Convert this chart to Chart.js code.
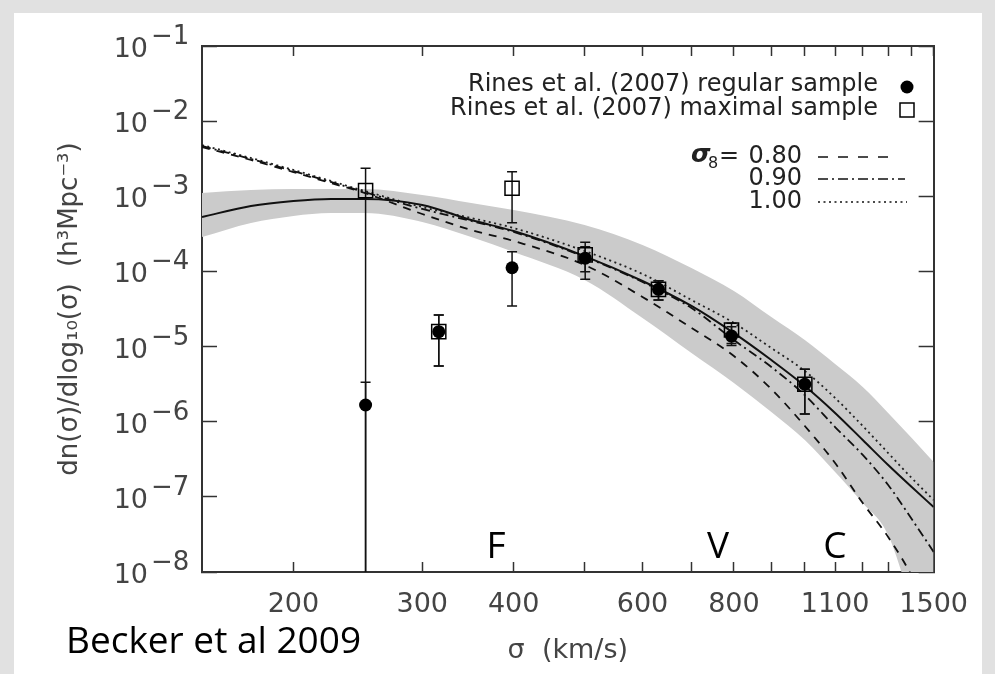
<!DOCTYPE html>
<html>
<head>
<meta charset="utf-8">
<script src="https://cdn.jsdelivr.net/npm/chart.js@4.4.1/dist/chart.umd.min.js"></script>
<style>
  body { margin: 0; background: #e1e1e1; }
  #panel { position: absolute; left: 14px; top: 13px; width: 968px; height: 661px; background: #fff; }
  #chart { position: absolute; left: 0; top: 0; }
</style>
</head>
<body>
<div id="panel"></div>
<canvas id="chart" width="995" height="674"></canvas>
<script>
// Rines et al. (2007) binned velocity dispersion function
var sigmaBins = [251, 316, 398, 501, 631, 794, 1000];
var regularN  = [1.67e-6, 1.58e-5, 1.12e-4, 1.50e-4, 5.78e-5, 1.38e-5, 3.15e-6];
var regularHi = [3.34e-6, 2.63e-5, 1.83e-4, 2.13e-4, 7.53e-5, 1.84e-5, 4.98e-6];
var regularLo = [1e-10,   5.50e-6, 3.47e-5, 9.91e-5, 4.17e-5, 1.10e-5, 1.27e-6]; // first one runs off the bottom
var maximalN  = [1.19e-3, 1.58e-5, 1.28e-3, 1.66e-4, 5.78e-5, 1.66e-5, 3.15e-6];
var maximalHi = [2.36e-3, 2.63e-5, 2.12e-3, 2.44e-4, 7.53e-5, 2.04e-5, 4.98e-6];
var maximalLo = [1e-10,   5.50e-6, 4.45e-4, 7.85e-5, 4.17e-5, 1.03e-5, 1.27e-6];

var sigmaGrid = [150, 175, 200, 225, 250, 300, 350, 400, 500, 600, 700, 800, 900, 1000, 1100, 1200, 1300, 1400, 1500];
var fitBest  = [5.30e-4, 7.43e-4, 8.65e-4, 9.20e-4, 9.20e-4, 7.66e-4, 4.83e-4, 3.45e-4, 1.60e-4, 7.46e-5, 3.47e-5, 1.51e-5, 6.62e-6, 2.99e-6, 1.31e-6, 5.71e-7, 2.65e-7, 1.35e-7, 7.33e-8];
var bandHigh = [1.11e-3, 1.21e-3, 1.25e-3, 1.25e-3, 1.25e-3, 1.04e-3, 8.14e-4, 6.56e-4, 4.15e-4, 2.25e-4, 1.11e-4, 5.48e-5, 2.47e-5, 1.22e-5, 5.86e-6, 2.90e-6, 1.31e-6, 6.07e-7, 2.91e-7];
var bandLow  = [2.87e-4, 4.41e-4, 5.47e-4, 5.98e-4, 5.98e-4, 4.55e-4, 2.87e-4, 1.81e-4, 7.69e-5, 2.40e-5, 8.20e-6, 3.27e-6, 1.35e-6, 5.71e-7, 2.14e-7, 8.28e-8, 3.10e-8, 3.32e-9, 2.0e-10];
var sigma8_080 = [4.53e-3, 3.04e-3, 2.10e-3, 1.50e-3, 1.11e-3, 5.81e-4, 3.56e-4, 2.54e-4, 1.22e-4, 4.57e-5, 1.77e-5, 7.48e-6, 2.72e-6, 8.77e-7, 2.82e-7, 8.28e-8, 2.92e-8, 8.85e-9, 1.97e-9];
var sigma8_090 = [4.67e-3, 3.13e-3, 2.17e-3, 1.55e-3, 1.14e-3, 6.78e-4, 4.69e-4, 3.35e-4, 1.56e-4, 7.23e-5, 3.26e-5, 1.22e-5, 5.35e-6, 2.26e-6, 8.50e-7, 3.61e-7, 1.44e-7, 5.07e-8, 1.85e-8];
var sigma8_100 = [4.81e-3, 3.23e-3, 2.24e-3, 1.60e-3, 1.18e-3, 7.20e-4, 5.14e-4, 3.78e-4, 1.87e-4, 9.24e-5, 4.17e-5, 2.06e-5, 9.57e-6, 4.73e-6, 2.07e-6, 8.77e-7, 3.83e-7, 1.78e-7, 9.08e-8];

var xTicks  = [200, 300, 400, 500, 600, 700, 800, 900, 1000, 1100, 1200, 1300, 1400, 1500];
var xLabels = [200, 300, 400, 600, 800, 1100, 1500];
var yTicks  = [1e-8, 1e-7, 1e-6, 1e-5, 1e-4, 1e-3, 1e-2, 1e-1];

var FONT = "'DejaVu Sans', sans-serif";
var INK = "#444";

function curve(vals) {
  return sigmaGrid.map(function(s, i) { return { x: s, y: vals[i] }; });
}
function binned(vals) {
  return sigmaBins.map(function(s, i) { return { x: s, y: vals[i] }; });
}
function errorSegments(lo, hi) {
  var pts = [];
  sigmaBins.forEach(function(s, i) {
    pts.push({ x: s, y: lo[i] }, { x: s, y: hi[i] }, { x: s, y: null });
  });
  return pts;
}
function caps() {
  var pts = [];
  [regularLo, regularHi, maximalLo, maximalHi].forEach(function(arr) {
    sigmaBins.forEach(function(s, i) { pts.push({ x: s, y: arr[i] }); });
  });
  return pts;
}

function setXTicks(axis) { axis.ticks = xTicks.map(function(v) { return { value: v }; }); }
function setYTicks(axis) { axis.ticks = yTicks.map(function(v) { return { value: v }; }); }

var frame = { color: "#333", width: 2 };

// y tick labels with superscripts, legend and the annotations
var overlay = {
  id: "overlay",
  afterDraw: function(chart) {
    var ctx = chart.ctx;
    var y = chart.scales.y;
    ctx.save();
    ctx.fillStyle = INK;
    ctx.textBaseline = "alphabetic";
    y.ticks.forEach(function(t) {
      var py = y.getPixelForValue(t.value);
      var exp = Math.round(Math.log10(t.value));
      ctx.font = "27px " + FONT;
      ctx.textAlign = "right";
      ctx.fillText("10", 148, py + 11);
      ctx.font = "26px " + FONT;
      ctx.textAlign = "left";
      ctx.fillText("\u2212" + Math.abs(exp), 151, py - 2);
    });

    // data legend
    ctx.fillStyle = "#222";
    ctx.font = "24px " + FONT;
    ctx.textAlign = "right";
    ctx.textBaseline = "middle";
    ctx.fillText("Rines et al. (2007) regular sample", 878, 85);
    ctx.fillText("Rines et al. (2007) maximal sample", 878, 109);
    ctx.beginPath();
    ctx.arc(907, 87, 6.5, 0, Math.PI * 2);
    ctx.fillStyle = "#000";
    ctx.fill();
    ctx.strokeStyle = "#000";
    ctx.lineWidth = 1.5;
    ctx.strokeRect(900, 103, 14, 14);

    // sigma_8 legend
    ctx.fillStyle = "#222";
    ctx.font = "bold italic 25px " + FONT;
    ctx.textAlign = "left";
    ctx.fillText("\u03c3", 691, 155);
    ctx.font = "16px " + FONT;
    ctx.fillText("8", 708, 164);
    ctx.font = "24px " + FONT;
    ctx.fillText("=", 719, 157);
    ctx.textAlign = "right";
    ctx.fillText("0.80", 802, 157);
    ctx.fillText("0.90", 802, 179);
    ctx.fillText("1.00", 802, 202);
    ctx.strokeStyle = "#111";
    ctx.lineWidth = 1.6;
    [[157, 897, [10, 10]], [179, 905, [10, 4, 2, 4]], [202, 907, [2, 3.5]]].forEach(function(s) {
      ctx.setLineDash(s[2]);
      ctx.beginPath();
      ctx.moveTo(818, s[0]);
      ctx.lineTo(s[1], s[0]);
      ctx.stroke();
    });
    ctx.setLineDash([]);

    // class labels and citation
    ctx.fillStyle = "#000";
    ctx.font = "37px 'Open Sans', sans-serif";
    ctx.textAlign = "center";
    ctx.textBaseline = "alphabetic";
    ctx.fillText("F", 496, 558);
    ctx.fillText("V", 718, 558);
    ctx.fillText("C", 835, 558);
    ctx.textAlign = "left";
    ctx.fillText("Becker et al 2009", 66, 653);
    ctx.restore();
  }
};

var ctx = document.getElementById("chart").getContext("2d");
new Chart(ctx, {
  type: "line",
  data: {
    datasets: [
      { data: curve(bandHigh), fill: "+1", backgroundColor: "#cbcbcb", borderColor: "rgba(0,0,0,0)",
        borderWidth: 0, pointRadius: 0, cubicInterpolationMode: "monotone", order: 10 },
      { data: curve(bandLow), fill: false, borderColor: "rgba(0,0,0,0)", borderWidth: 0, pointRadius: 0,
        cubicInterpolationMode: "monotone", order: 10 },
      { data: curve(fitBest), borderColor: "#111", borderWidth: 2, pointRadius: 0, fill: false,
        cubicInterpolationMode: "monotone", order: 5 },
      { data: curve(sigma8_080), borderColor: "#111", borderWidth: 1.8, borderDash: [8, 7], pointRadius: 0, fill: false,
        cubicInterpolationMode: "monotone", order: 5 },
      { data: curve(sigma8_090), borderColor: "#111", borderWidth: 1.8, borderDash: [9, 4, 2, 4], pointRadius: 0, fill: false,
        cubicInterpolationMode: "monotone", order: 5 },
      { data: curve(sigma8_100), borderColor: "#222", borderWidth: 1.8, borderDash: [2, 3.5], pointRadius: 0, fill: false,
        cubicInterpolationMode: "monotone", order: 5 },
      { data: errorSegments(regularLo, regularHi), borderColor: "#111", borderWidth: 1.5, pointRadius: 0,
        fill: false, spanGaps: false, order: 3 },
      { data: errorSegments(maximalLo, maximalHi), borderColor: "#111", borderWidth: 1.5, pointRadius: 0,
        fill: false, spanGaps: false, order: 3 },
      { data: caps(), showLine: false, pointStyle: "line", pointRadius: 5, pointBorderColor: "#111",
        pointBorderWidth: 1.5, order: 2 },
      { data: binned(regularN), showLine: false, pointStyle: "circle", pointRadius: 6.5,
        pointBackgroundColor: "#000", pointBorderColor: "#000", pointBorderWidth: 0, order: 1 },
      { data: binned(maximalN), showLine: false, pointStyle: "rect", pointRadius: 10,
        pointBackgroundColor: "rgba(0,0,0,0)", pointBorderColor: "#000", pointBorderWidth: 1.5, order: 1 }
    ]
  },
  options: {
    responsive: false,
    animation: false,
    events: [],
    layout: { padding: { top: 46, right: 51, bottom: 0, left: 0 } },
    plugins: { legend: { display: false }, tooltip: { enabled: false } },
    scales: {
      x: {
        type: "logarithmic", position: "bottom", min: 150, max: 1500,
        afterBuildTicks: setXTicks,
        afterFit: function(s) { s.height = 102; },
        ticks: {
          autoSkip: false, maxRotation: 0, minRotation: 0, padding: 27, color: INK,
          font: { family: FONT, size: 27 },
          callback: function(v) { return xLabels.indexOf(v) >= 0 ? String(v) : ""; }
        },
        grid: { drawOnChartArea: false, tickLength: -10, tickColor: "#333", tickWidth: 1.5 },
        border: frame,
        title: { display: true, text: "\u03c3  (km/s)", color: INK, padding: { top: 0, bottom: 7 },
                 font: { family: FONT, size: 27 } }
      },
      x2: {
        type: "logarithmic", position: "top", min: 150, max: 1500,
        afterBuildTicks: setXTicks,
        afterFit: function(s) { s.height = 0; },
        ticks: { display: false },
        grid: { drawOnChartArea: false, tickLength: -10, tickColor: "#333", tickWidth: 1.5 },
        border: frame
      },
      y: {
        type: "logarithmic", position: "left", min: 1e-8, max: 1e-1,
        afterBuildTicks: setYTicks,
        afterFit: function(s) { s.width = 202; },
        ticks: { display: false },
        grid: { drawOnChartArea: false, tickLength: -15, tickColor: "#333", tickWidth: 1.5 },
        border: frame,
        title: { display: true, text: "dn(\u03c3)/dlog\u2081\u2080(\u03c3)  (h\u00b3Mpc\u207b\u00b3)", color: INK,
                 padding: { top: 55, bottom: 0 }, font: { family: FONT, size: 26 } }
      },
      y2: {
        type: "logarithmic", position: "right", min: 1e-8, max: 1e-1,
        afterBuildTicks: setYTicks,
        afterFit: function(s) { s.width = 0; },
        ticks: { display: false },
        grid: { drawOnChartArea: false, tickLength: -15, tickColor: "#333", tickWidth: 1.5 },
        border: frame
      }
    }
  },
  plugins: [overlay]
});
</script>
</body>
</html>
